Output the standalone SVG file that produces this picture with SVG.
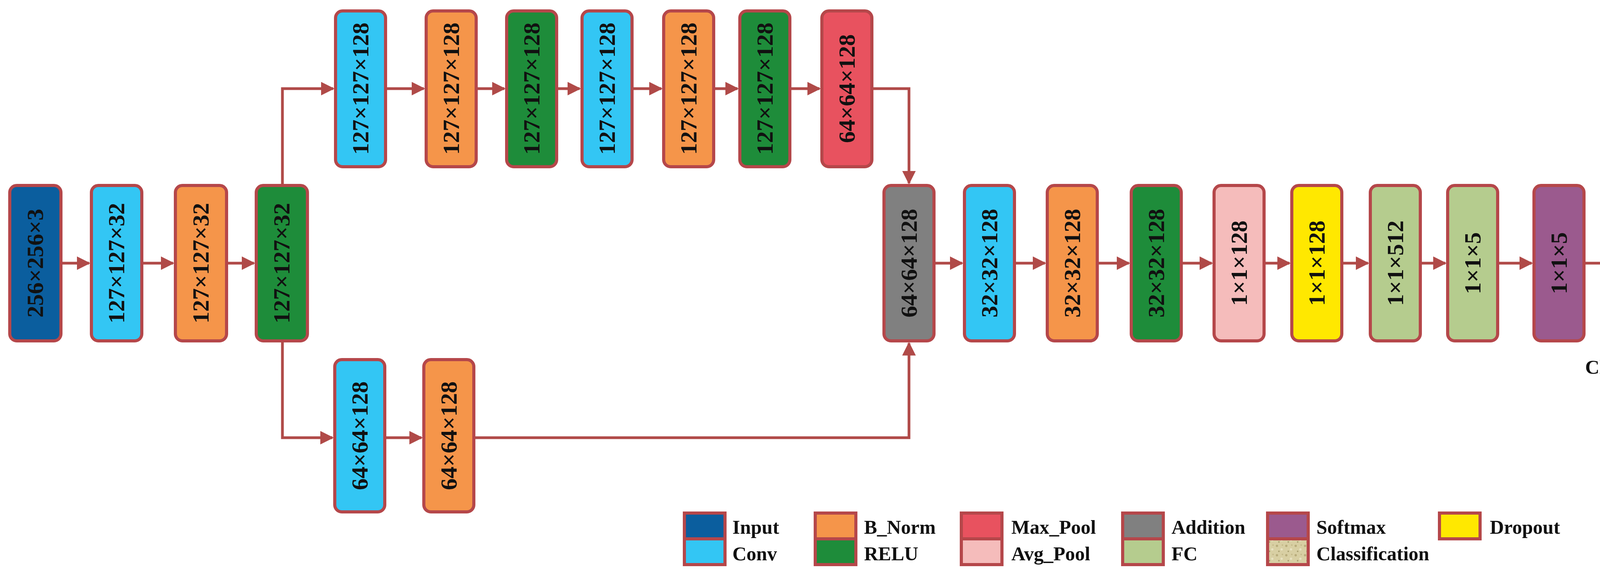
<svg xmlns="http://www.w3.org/2000/svg" width="4377" height="1488" viewBox="0 0 4377 1488">
<style>
.n{stroke:#b5474a;stroke-width:8}
.t{font-family:"Liberation Serif",serif;font-weight:bold;font-size:60px;fill:#111;text-anchor:middle;dominant-baseline:central}
.l{font-family:"Liberation Serif",serif;font-weight:bold;font-size:50px;fill:#111;dominant-baseline:central}
.c{fill:none;stroke:#b04a48;stroke-width:7}
</style>
<defs>
<marker id="a" viewBox="0 0 10 10" refX="9" refY="5" markerWidth="5" markerHeight="5" markerUnits="strokeWidth" orient="auto"><path d="M0,0L10,5L0,10z" fill="#b04a48"/></marker>
<pattern id="p" width="24" height="24" patternUnits="userSpaceOnUse"><rect width="24" height="24" fill="#d8cfa3"/><circle cx="5" cy="6" r="3" fill="#b9ad7c"/><circle cx="17" cy="15" r="3" fill="#e8e2c2"/><circle cx="10" cy="20" r="2" fill="#a9a070"/><circle cx="19" cy="4" r="2" fill="#c4ba8a"/></pattern>
</defs>
<g id="connectors">
<path class="c" d="M156,674H228" marker-end="url(#a)"/>
<path class="c" d="M363,674H443" marker-end="url(#a)"/>
<path class="c" d="M580,674H650" marker-end="url(#a)"/>
<path class="c" d="M723,475V227H853" marker-end="url(#a)"/>
<path class="c" d="M723,873V1121H851" marker-end="url(#a)"/>
<path class="c" d="M987,227H1085" marker-end="url(#a)"/>
<path class="c" d="M1219,227H1291" marker-end="url(#a)"/>
<path class="c" d="M1425,227H1484" marker-end="url(#a)"/>
<path class="c" d="M1618,227H1693" marker-end="url(#a)"/>
<path class="c" d="M1827,227H1888" marker-end="url(#a)"/>
<path class="c" d="M2022,227H2098" marker-end="url(#a)"/>
<path class="c" d="M2232,227H2327V469" marker-end="url(#a)"/>
<path class="c" d="M985,1121H1079" marker-end="url(#a)"/>
<path class="c" d="M1213,1121H2327V879" marker-end="url(#a)"/>
<path class="c" d="M2391,674H2463" marker-end="url(#a)"/>
<path class="c" d="M2597,674H2675" marker-end="url(#a)"/>
<path class="c" d="M2809,674H2890" marker-end="url(#a)"/>
<path class="c" d="M3024,674H3102" marker-end="url(#a)"/>
<path class="c" d="M3236,674H3301" marker-end="url(#a)"/>
<path class="c" d="M3435,674H3502" marker-end="url(#a)"/>
<path class="c" d="M3636,674H3700" marker-end="url(#a)"/>
<path class="c" d="M3834,674H3921" marker-end="url(#a)"/>
<path class="c" d="M4055,674H4143" marker-end="url(#a)"/>
</g>
<g id="n1"><rect class="n" x="25" y="475" width="131" height="398" rx="18" fill="#0b5e9e"/><text class="t" transform="translate(90,674) rotate(-90)">256×256×3</text></g>
<g id="n2"><rect class="n" x="234" y="475" width="129" height="398" rx="18" fill="#33c6f4"/><text class="t" transform="translate(298,674) rotate(-90)">127×127×32</text></g>
<g id="n3"><rect class="n" x="449" y="475" width="131" height="398" rx="18" fill="#f5954a"/><text class="t" transform="translate(514,674) rotate(-90)">127×127×32</text></g>
<g id="n4"><rect class="n" x="656" y="475" width="131" height="398" rx="18" fill="#1e8c3a"/><text class="t" transform="translate(721,674) rotate(-90)">127×127×32</text></g>
<g id="t1"><rect class="n" x="859" y="28" width="128" height="399" rx="18" fill="#33c6f4"/><text class="t" transform="translate(923,227) rotate(-90)">127×127×128</text></g>
<g id="t2"><rect class="n" x="1091" y="28" width="128" height="399" rx="18" fill="#f5954a"/><text class="t" transform="translate(1155,227) rotate(-90)">127×127×128</text></g>
<g id="t3"><rect class="n" x="1297" y="28" width="128" height="399" rx="18" fill="#1e8c3a"/><text class="t" transform="translate(1361,227) rotate(-90)">127×127×128</text></g>
<g id="t4"><rect class="n" x="1490" y="28" width="128" height="399" rx="18" fill="#33c6f4"/><text class="t" transform="translate(1554,227) rotate(-90)">127×127×128</text></g>
<g id="t5"><rect class="n" x="1699" y="28" width="128" height="399" rx="18" fill="#f5954a"/><text class="t" transform="translate(1763,227) rotate(-90)">127×127×128</text></g>
<g id="t6"><rect class="n" x="1894" y="28" width="128" height="399" rx="18" fill="#1e8c3a"/><text class="t" transform="translate(1958,227) rotate(-90)">127×127×128</text></g>
<g id="t7"><rect class="n" x="2104" y="28" width="128" height="399" rx="18" fill="#e8525f"/><text class="t" transform="translate(2168,227) rotate(-90)">64×64×128</text></g>
<g id="b1"><rect class="n" x="857" y="921" width="128" height="390" rx="18" fill="#33c6f4"/><text class="t" transform="translate(921,1116) rotate(-90)">64×64×128</text></g>
<g id="b2"><rect class="n" x="1085" y="921" width="128" height="390" rx="18" fill="#f5954a"/><text class="t" transform="translate(1149,1116) rotate(-90)">64×64×128</text></g>
<g id="r1"><rect class="n" x="2263" y="475" width="128" height="398" rx="18" fill="#808080"/><text class="t" transform="translate(2327,674) rotate(-90)">64×64×128</text></g>
<g id="r2"><rect class="n" x="2469" y="475" width="128" height="398" rx="18" fill="#33c6f4"/><text class="t" transform="translate(2533,674) rotate(-90)">32×32×128</text></g>
<g id="r3"><rect class="n" x="2681" y="475" width="128" height="398" rx="18" fill="#f5954a"/><text class="t" transform="translate(2745,674) rotate(-90)">32×32×128</text></g>
<g id="r4"><rect class="n" x="2896" y="475" width="128" height="398" rx="18" fill="#1e8c3a"/><text class="t" transform="translate(2960,674) rotate(-90)">32×32×128</text></g>
<g id="r5"><rect class="n" x="3108" y="475" width="128" height="398" rx="18" fill="#f5bcbb"/><text class="t" transform="translate(3172,674) rotate(-90)">1×1×128</text></g>
<g id="r6"><rect class="n" x="3307" y="475" width="128" height="398" rx="18" fill="#ffe800"/><text class="t" transform="translate(3371,674) rotate(-90)">1×1×128</text></g>
<g id="r7"><rect class="n" x="3508" y="475" width="128" height="398" rx="18" fill="#b5cc8e"/><text class="t" transform="translate(3572,674) rotate(-90)">1×1×512</text></g>
<g id="r8"><rect class="n" x="3706" y="475" width="128" height="398" rx="18" fill="#b5cc8e"/><text class="t" transform="translate(3770,674) rotate(-90)">1×1×5</text></g>
<g id="r9"><rect class="n" x="3927" y="475" width="128" height="398" rx="18" fill="#9b5a8e"/><text class="t" transform="translate(3991,674) rotate(-90)">1×1×5</text></g>
<g id="r10"><rect class="n" x="4149" y="475" width="128" height="398" rx="18" fill="url(#p)"/><text class="l" x="4058" y="940" textLength="292" lengthAdjust="spacingAndGlyphs">Classification</text></g>
<g id="legend">
<rect class="n" x="1752" y="1314" width="104" height="66" fill="#0b5e9e"/><rect class="n" x="1752" y="1380" width="104" height="66" fill="#33c6f4"/>
<text class="l" x="1875" y="1350">Input</text><text class="l" x="1875" y="1418">Conv</text>
<rect class="n" x="2087" y="1314" width="104" height="66" fill="#f5954a"/><rect class="n" x="2087" y="1380" width="104" height="66" fill="#1e8c3a"/>
<text class="l" x="2212" y="1350">B_Norm</text><text class="l" x="2212" y="1418">RELU</text>
<rect class="n" x="2461" y="1314" width="104" height="66" fill="#e8525f"/><rect class="n" x="2461" y="1380" width="104" height="66" fill="#f5bcbb"/>
<text class="l" x="2589" y="1350">Max_Pool</text><text class="l" x="2589" y="1418">Avg_Pool</text>
<rect class="n" x="2874" y="1314" width="104" height="66" fill="#808080"/><rect class="n" x="2874" y="1380" width="104" height="66" fill="#b5cc8e"/>
<text class="l" x="2999" y="1350">Addition</text><text class="l" x="2999" y="1418">FC</text>
<rect class="n" x="3245" y="1314" width="104" height="66" fill="#9b5a8e"/><rect class="n" x="3245" y="1380" width="104" height="66" fill="url(#p)"/>
<text class="l" x="3370" y="1350">Softmax</text><text class="l" x="3370" y="1418">Classification</text>
<rect class="n" x="3685" y="1314" width="104" height="66" fill="#ffe800"/>
<text class="l" x="3814" y="1350">Dropout</text>
</g>
</svg>
